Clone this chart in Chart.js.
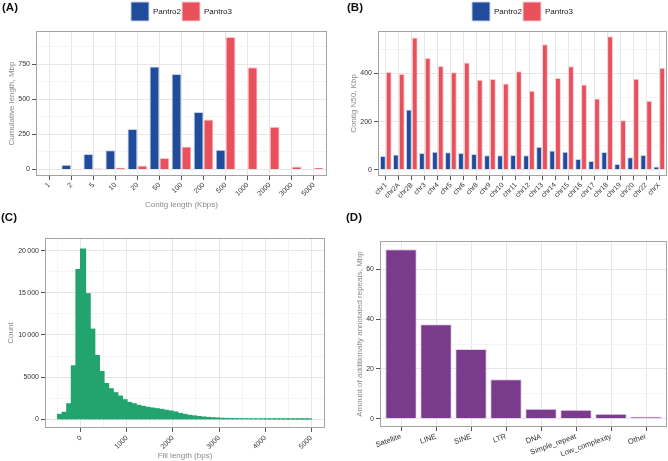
<!DOCTYPE html>
<html>
<head>
<meta charset="utf-8">
<script src="https://cdn.jsdelivr.net/npm/chart.js@4.4.0/dist/chart.umd.min.js"></script>
<style>
body { margin: 0; background: #fff; }
#fig { position: relative; width: 668px; height: 461px; overflow: hidden; font-family: "Liberation Sans", Arial, sans-serif; }
#fig canvas { position: absolute; }
.tag { position: absolute; font-weight: bold; font-size: 11.5px; line-height: 1; color: #111; }
</style>
</head>
<body>
<div id="fig">
	<canvas id="cA" width="334" height="230" style="left:0;top:0"></canvas>
	<canvas id="cB" width="334" height="230" style="left:334px;top:0"></canvas>
	<canvas id="cC" width="334" height="231" style="left:0;top:230px"></canvas>
	<canvas id="cD" width="334" height="231" style="left:334px;top:230px"></canvas>
	<div class="tag" style="left:2px;top:2px">(A)</div>
	<div class="tag" style="left:347px;top:2px">(B)</div>
	<div class="tag" style="left:1px;top:212px">(C)</div>
	<div class="tag" style="left:346px;top:212px">(D)</div>
</div>
<script>
// (A) cumulative length by contig length bin
var contigBins = ['1', '2', '5', '10', '20', '50', '100', '200', '500', '1000', '2000', '3000', '5000'];
var contigPantro2 = [4, 33, 109, 137, 289, 733, 681, 409, 141, 2, 0, 1, 0];
var contigPantro3 = [0, 4, 6, 13, 28, 81, 164, 356, 944, 728, 304, 20, 12];
var aTicks = [0, 250, 500, 750];
var aTickLabels = ['0', '250', '500', '750'];
var aMinor = [125, 375, 625, 875];

// (B) contig N50 per chromosome
var chroms = ['chr1', 'chr2A', 'chr2B', 'chr3', 'chr4', 'chr5', 'chr6', 'chr8', 'chr9', 'chr10', 'chr11',
	'chr12', 'chr13', 'chr14', 'chr15', 'chr16', 'chr17', 'chr18', 'chr19', 'chr20', 'chr22', 'chrX'];
var n50Pantro2 = [57, 63, 251, 70, 75, 73, 70, 66, 60, 60, 61, 60, 96, 80, 75, 45, 36, 74, 24, 52, 61, 13];
var n50Pantro3 = [407, 398, 550, 465, 431, 405, 446, 374, 377, 359, 410, 329, 522, 382, 430, 354, 296, 555, 206, 378, 287, 424];
var bTicks = [0, 200, 400];
var bTickLabels = ['0', '200', '400'];
var bMinor = [100, 300, 500];

// (C) fill length histogram, 100 bp bins (bin start)
var fillBins = [-500, -400, -300, -200, -100, 0, 100, 200, 300, 400, 500, 600, 700, 800, 900,
	1000, 1100, 1200, 1300, 1400, 1500, 1600, 1700, 1800, 1900, 2000, 2100, 2200, 2300, 2400,
	2500, 2600, 2700, 2800, 2900, 3000, 3100, 3200, 3300, 3400, 3500, 3600, 3700, 3800, 3900,
	4000, 4100, 4200, 4300, 4400, 4500, 4600, 4700, 4800, 4900];
var fillCounts = [590, 830, 1850, 6350, 17750, 20200, 14900, 10700, 7570, 5680, 4250, 3630, 3160, 2760, 2330,
	2010, 1850, 1660, 1540, 1420, 1340, 1260, 1180, 1070, 990, 870, 700, 590, 480, 410,
	340, 280, 230, 190, 160, 130, 110, 95, 85, 75, 68, 60, 55, 50, 45,
	42, 38, 35, 32, 30, 28, 26, 24, 22, 20];
var cxTicks = [0, 1000, 2000, 3000, 4000, 5000];
var cxTickLabels = ['0', '1000', '2000', '3000', '4000', '5000'];
var cxMinor = [-500, 500, 1500, 2500, 3500, 4500];
var cyTicks = [0, 5000, 10000, 15000, 20000];
var cyTickLabels = ['0', '5000', '10\u2009000', '15\u2009000', '20\u2009000'];
var cyMinor = [2500, 7500, 12500, 17500];

// (D) additionally annotated repeats
var repeatClasses = ['Satellite', 'LINE', 'SINE', 'LTR', 'DNA', 'Simple_repeat', 'Low_complexity', 'Other'];
var repeatMbp = [68.1, 38.0, 28.0, 15.9, 4.0, 3.6, 2.0, 0.9];
var dTicks = [0, 20, 40, 60];
var dTickLabels = ['0', '20', '40', '60'];
var dMinor = [10, 30, 50, 70];

var BLUE = '#214C9B', RED = '#E8505C', GREEN = '#23A46F', PURPLE = '#7A3B8D';

Chart.defaults.font.family = '"Liberation Sans", Arial, sans-serif';
Chart.defaults.color = '#333';
Chart.defaults.animation = false;

function gridColor(ctx) {
	return ctx.tick && ctx.tick.minor ? '#F4F4F4' : '#E6E6E6';
}
function tickMarkColor(ctx) {
	return ctx.tick && ctx.tick.minor ? 'rgba(0,0,0,0)' : '#555';
}

// panel border like ggplot theme_bw
var panelBorder = {
	id: 'panelBorder',
	afterDatasetsDraw: function(chart) {
		var a = chart.chartArea, ctx = chart.ctx;
		ctx.save();
		ctx.strokeStyle = '#A3A3A3';
		ctx.lineWidth = 1;
		ctx.strokeRect(Math.round(a.left) + 0.5, Math.round(a.top) + 0.5,
			Math.round(a.right - a.left) - 1, Math.round(a.bottom - a.top) - 1);
		ctx.restore();
	}
};

// continuous axis with major + minor breaks
function numAxis(o) {
	return {
		type: 'linear',
		min: o.min,
		max: o.max,
		offset: false,
		afterBuildTicks: function(scale) {
			var t = o.major.map(function(v, i) { return { value: v, txt: o.labels[i] }; })
				.concat(o.minor.map(function(v) { return { value: v, minor: true }; }));
			t.sort(function(a, b) { return a.value - b.value; });
			scale.ticks = t;
		},
		afterFit: function(scale) {
			if (o.width) scale.width = o.width;
			if (o.height) scale.height = o.height;
		},
		ticks: {
			autoSkip: false,
			padding: 2,
			minRotation: o.rotation || 0,
			maxRotation: o.rotation || 0,
			font: { size: 7 },
			color: '#333',
			callback: function(v, i, ticks) { return ticks[i].minor ? '' : ticks[i].txt; }
		},
		grid: { color: gridColor, offset: false, tickLength: 4, tickColor: tickMarkColor },
		border: { display: false },
		title: {
			display: !!o.title,
			text: o.title,
			color: '#8A8A8A',
			font: { size: 8 },
			padding: { top: o.titlePad || 0, bottom: o.titlePad || 0 }
		}
	};
}

// discrete axis drawn on a linear scale so the 0.6 expansion matches
function catAxis(o) {
	return {
		type: 'linear',
		min: -0.6,
		max: o.labels.length - 0.4,
		offset: false,
		afterBuildTicks: function(scale) {
			scale.ticks = o.labels.map(function(l, i) { return { value: i }; });
		},
		afterFit: function(scale) { scale.height = o.height; },
		ticks: {
			autoSkip: false,
			padding: 1,
			minRotation: o.rotation,
			maxRotation: o.rotation,
			font: { size: o.fontSize || 7 },
			color: '#333',
			callback: function(v, i) { return o.labels[i]; }
		},
		grid: { color: '#E6E6E6', offset: false, tickLength: 4, tickColor: '#555' },
		border: { display: false },
		title: {
			display: !!o.title,
			text: o.title,
			color: '#8A8A8A',
			font: { size: 8 },
			padding: { top: 0, bottom: o.titlePad || 0 }
		}
	};
}

function toPoints(values) {
	return values.map(function(v, i) { return { x: i, y: v }; });
}

var legendOpts = {
	display: true,
	position: 'top',
	fullSize: false,
	labels: { boxWidth: 18, boxHeight: 19, padding: 1, font: { size: 8 }, color: '#222' }
};

// (A)
new Chart(document.getElementById('cA'), {
	type: 'bar',
	data: {
		datasets: [
			{ label: 'Pantro2', data: toPoints(contigPantro2), backgroundColor: BLUE, borderColor: '#C9D4EA', borderWidth: 1 },
			{ label: 'Pantro3', data: toPoints(contigPantro3), backgroundColor: RED, borderColor: '#F7CDD1', borderWidth: 1 }
		]
	},
	options: {
		responsive: false,
		devicePixelRatio: 1,
		layout: { padding: { left: 0, top: 1, right: 7, bottom: 0 } },
		datasets: { bar: { categoryPercentage: 0.9, barPercentage: 1 } },
		plugins: { legend: legendOpts, tooltip: { enabled: false } },
		scales: {
			x: catAxis({ labels: contigBins, rotation: 45, height: 54, title: 'Contig length (Kbps)', titlePad: 20 }),
			y: numAxis({ min: -47, max: 987, major: aTicks, labels: aTickLabels, minor: aMinor, width: 36,
				title: 'Cumulative length, Mbp', titlePad: 7 })
		}
	},
	plugins: [panelBorder]
});

// (B)
new Chart(document.getElementById('cB'), {
	type: 'bar',
	data: {
		datasets: [
			{ label: 'Pantro2', data: toPoints(n50Pantro2), backgroundColor: BLUE, borderColor: '#C9D4EA', borderWidth: 1 },
			{ label: 'Pantro3', data: toPoints(n50Pantro3), backgroundColor: RED, borderColor: '#F7CDD1', borderWidth: 1 }
		]
	},
	options: {
		responsive: false,
		devicePixelRatio: 1,
		layout: { padding: { left: 0, top: 1, right: 1, bottom: 0 } },
		datasets: { bar: { categoryPercentage: 0.9, barPercentage: 1 } },
		plugins: { legend: legendOpts, tooltip: { enabled: false } },
		scales: {
			x: catAxis({ labels: chroms, rotation: 45, height: 54 }),
			y: numAxis({ min: -26, max: 577, major: bTicks, labels: bTickLabels, minor: bMinor, width: 44,
				title: 'Contig N50, Kbp', titlePad: 15 })
		}
	},
	plugins: [panelBorder]
});

// (C) histogram, bins a touch wider than the step so they close up
new Chart(document.getElementById('cC'), {
	type: 'bar',
	data: {
		datasets: [{
			label: 'Count',
			data: fillBins.map(function(b, i) { return { x: b + 50, y: fillCounts[i] }; }),
			backgroundColor: GREEN,
			borderWidth: 0,
			categoryPercentage: 1,
			barPercentage: 1.12,
			inflateAmount: 0.5
		}]
	},
	options: {
		responsive: false,
		devicePixelRatio: 1,
		layout: { padding: { left: 0, top: 8, right: 9, bottom: 0 } },
		plugins: { legend: { display: false }, tooltip: { enabled: false } },
		scales: {
			x: numAxis({ min: -776, max: 5300, major: cxTicks, labels: cxTickLabels, minor: cxMinor, rotation: 45,
				height: 33, title: 'Fill length (bps)', titlePad: 0 }),
			y: numAxis({ min: -1030, max: 21500, major: cyTicks, labels: cyTickLabels, minor: cyMinor, width: 45,
				title: 'Count', titlePad: 6 })
		}
	},
	plugins: [panelBorder]
});

// (D)
new Chart(document.getElementById('cD'), {
	type: 'bar',
	data: {
		datasets: [{
			label: 'Repeats',
			data: toPoints(repeatMbp),
			backgroundColor: PURPLE,
			borderColor: '#E7D2EE',
			borderWidth: 1
		}]
	},
	options: {
		responsive: false,
		devicePixelRatio: 1,
		layout: { padding: { left: 0, top: 11, right: 1, bottom: 0 } },
		datasets: { bar: { categoryPercentage: 0.9, barPercentage: 1 } },
		plugins: { legend: { display: false }, tooltip: { enabled: false } },
		scales: {
			x: catAxis({ labels: repeatClasses, rotation: 20, fontSize: 7.5, height: 34 }),
			y: numAxis({ min: -3.3, max: 71.4, major: dTicks, labels: dTickLabels, minor: dMinor, width: 46,
				title: 'Amount of additionally annotated repeats, Mbp', titlePad: 21 })
		}
	},
	plugins: [panelBorder]
});
</script>
</body>
</html>
